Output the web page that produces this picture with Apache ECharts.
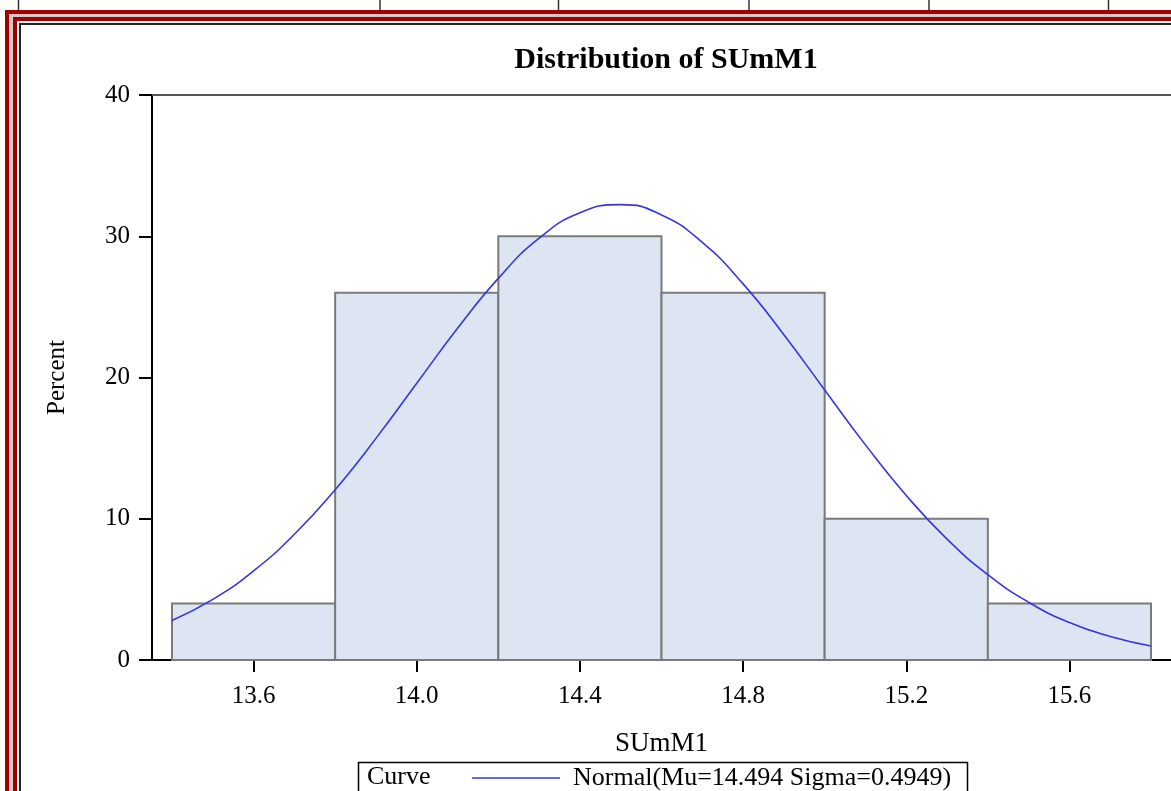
<!DOCTYPE html>
<html>
<head>
<meta charset="utf-8">
<script src="https://cdn.jsdelivr.net/npm/echarts@6/dist/echarts.min.js"></script>
<style>
html,body{margin:0;padding:0;background:#fff;}
#chart{width:1171px;height:791px;}
</style>
</head>
<body>
<div id="chart"></div>
<script>
// Histogram bins (SUmM1) and percents
var binEdges = [13.4, 13.8, 14.2, 14.6, 15.0, 15.4, 15.8];
var binPercent = [4, 26, 30, 26, 10, 4];
// Normal curve points (Mu=14.494, Sigma=0.4949)
var curveX = [13.4,13.5,13.6,13.7,13.8,13.9,14.0,14.1,14.2,14.3,14.4,14.5,14.6,14.7,14.8,14.9,15.0,15.1,15.2,15.3,15.4,15.5,15.6,15.7,15.8];
var curveY = [2.80,4.29,6.31,8.90,12.06,15.69,19.59,23.48,27.02,29.86,31.66,32.24,31.51,29.56,26.63,23.03,19.12,15.23,11.65,8.56,6.04,4.09,2.65,1.66,0.99];
var xTicks = [13.6, 14.0, 14.4, 14.8, 15.2, 15.6];
var yTicks = [0, 10, 20, 30, 40];
var titleText = 'Distribution of SUmM1';
var xName = 'SUmM1';
var yName = 'Percent';
var curveName = 'Normal(Mu=14.494 Sigma=0.4949)';

var FONT = 'Liberation Serif';
var X_MIN = 13.351, X_MAX = 15.849;
var barData = binPercent.map(function (v, i) { return [binEdges[i], binEdges[i + 1], v]; });
var lineData = curveX.map(function (x, i) { return [x, curveY[i]]; });

var chart = echarts.init(document.getElementById('chart'), null, {renderer: 'canvas'});

var red = '#a00000';
var decor = [
  // top thin vertical lines
  {type:'line', shape:{x1:18.5,y1:0,x2:18.5,y2:10}, style:{stroke:'#333',lineWidth:1.5}},
  {type:'line', shape:{x1:380,y1:0,x2:380,y2:10}, style:{stroke:'#333',lineWidth:1.5}},
  {type:'line', shape:{x1:558.5,y1:0,x2:558.5,y2:10}, style:{stroke:'#333',lineWidth:1.5}},
  {type:'line', shape:{x1:749,y1:0,x2:749,y2:10}, style:{stroke:'#333',lineWidth:1.5}},
  {type:'line', shape:{x1:929,y1:0,x2:929,y2:10}, style:{stroke:'#333',lineWidth:1.5}},
  {type:'line', shape:{x1:1108.5,y1:0,x2:1108.5,y2:10}, style:{stroke:'#333',lineWidth:1.5}},
  // red frame outer
  {type:'rect', shape:{x:5,y:10,width:1200,height:4}, style:{fill:red}},
  {type:'rect', shape:{x:5,y:10,width:4,height:800}, style:{fill:red}},
  {type:'rect', shape:{x:9,y:14,width:1200,height:3}, style:{fill:'#d8c8c8'}},
  {type:'rect', shape:{x:9,y:14,width:4,height:800}, style:{fill:'#d8c8c8'}},
  // red frame inner
  {type:'rect', shape:{x:13,y:17,width:1200,height:4}, style:{fill:red}},
  {type:'rect', shape:{x:13,y:17,width:4,height:800}, style:{fill:red}},
  // black line
  {type:'rect', shape:{x:19,y:23,width:1200,height:2}, style:{fill:'#222'}},
  {type:'rect', shape:{x:19,y:23,width:2,height:800}, style:{fill:'#222'}},
  // legend label
  {type:'rect', shape:{x:358.5,y:762.5,width:609,height:40}, style:{fill:'none',stroke:'#000',lineWidth:1.5}},
  {type:'text', left:367, top:764, style:{text:'Curve', font:'26px "Liberation Serif"', fill:'#000'}}
];

chart.setOption({
  animation: false,
  backgroundColor: '#fff',
  title: {
    text: titleText,
    left: 661, top: 40,
    textAlign: 'center',
    textStyle: {fontFamily: FONT, fontSize: 30, fontWeight: 'bold', color: '#000'}
  },
  legend: {
    data: [curveName],
    left: 472, top: 765,
    itemWidth: 88, itemHeight: 14,
    icon: 'path://M0,7 L88,7 L88,8.5 L0,8.5 Z',
    itemStyle: {color: '#3535e2'},
    textStyle: {fontFamily: FONT, fontSize: 26, color: '#000', padding: [0,0,0,8]},
    padding: 0
  },
  grid: {left: 152, top: 95, right: 0, bottom: 131, show: false},
  xAxis: [{
    type: 'value', min: X_MIN, max: X_MAX,
    name: xName, nameLocation: 'middle', nameGap: 70,
    nameTextStyle: {fontFamily: FONT, fontSize: 27, color: '#000'},
    axisLine: {show: true, onZero: false, lineStyle: {color: '#000', width: 2}},
    axisTick: {show: true, length: 12, lineStyle: {color: '#000', width: 2}, customValues: xTicks},
    axisLabel: {fontFamily: FONT, fontSize: 25, color: '#000', margin: 24, customValues: xTicks,
      formatter: function (v) { return v.toFixed(1); }},
    splitLine: {show: false}
  }, {
    type: 'value', min: X_MIN, max: X_MAX, position: 'top',
    axisLine: {show: true, onZero: false, lineStyle: {color: '#555', width: 2}},
    axisTick: {show: false}, axisLabel: {show: false}, splitLine: {show: false}
  }],
  yAxis: {
    type: 'value', min: 0, max: 40, interval: 10,
    name: yName, nameLocation: 'middle', nameGap: 82,
    nameTextStyle: {fontFamily: FONT, fontSize: 25, color: '#000'},
    axisLine: {show: true, lineStyle: {color: '#000', width: 2}},
    axisTick: {show: true, length: 13, lineStyle: {color: '#000', width: 2}},
    axisLabel: {fontFamily: FONT, fontSize: 25, color: '#000', margin: 22},
    splitLine: {show: false}
  },
  graphic: decor,
  series: [
    {
      type: 'custom',
      name: 'hist',
      xAxisIndex: 0,
      renderItem: function (params, api) {
        var p0 = api.coord([api.value(0), api.value(2)]);
        var p1 = api.coord([api.value(1), 0]);
        return {
          type: 'rect',
          shape: {x: p0[0], y: p0[1], width: p1[0] - p0[0], height: p1[1] - p0[1]},
          style: {fill: '#dce5f1', stroke: '#7a7a7a', lineWidth: 2}
        };
      },
      encode: {x: [0, 1], y: 2},
      data: barData,
      z: 2
    },
    {
      type: 'line',
      name: curveName,
      xAxisIndex: 0,
      data: lineData,
      smooth: true,
      symbol: 'none',
      lineStyle: {color: '#3535e2', width: 1.6},
      itemStyle: {color: '#3535e2'},
      z: 3
    }
  ]
});
</script>
</body>
</html>
